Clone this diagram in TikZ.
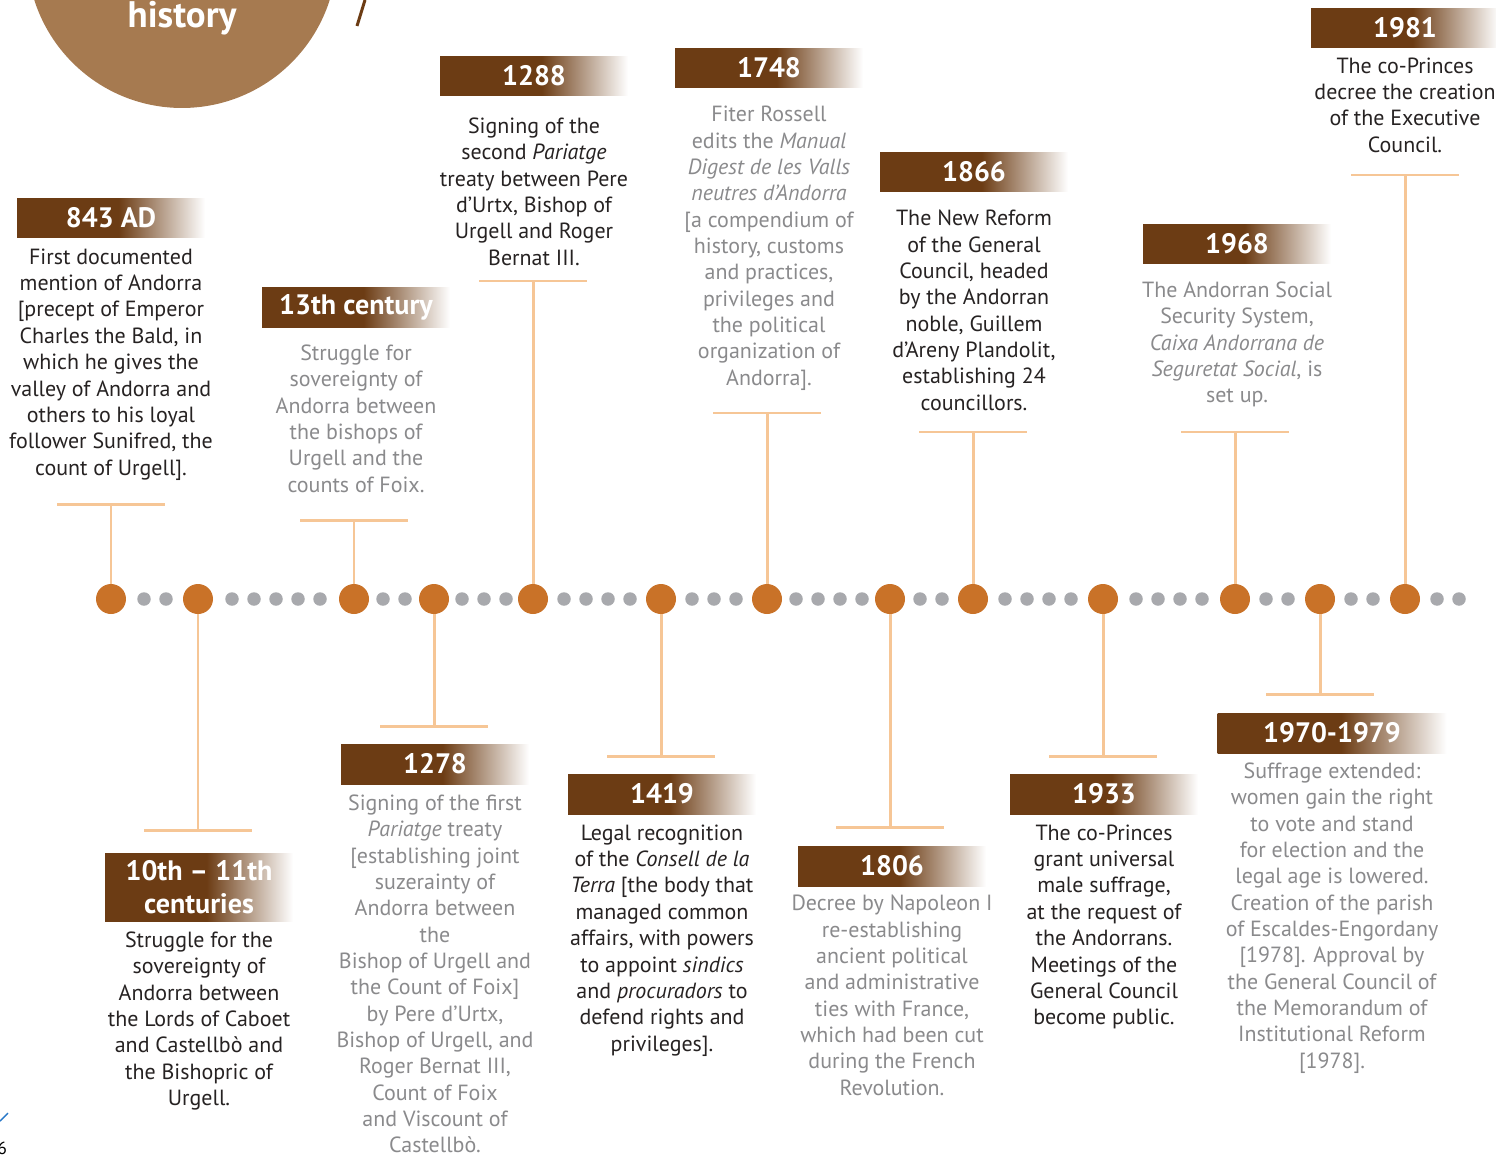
\documentclass[tikz,border=0pt]{standalone}
\usepackage{fontspec}
\setmainfont{PT Sans}
\usetikzlibrary{positioning}

\definecolor{hdrbrown}{RGB}{108,60,20}
\definecolor{titlebrown}{RGB}{166,122,80}
\definecolor{dotorange}{RGB}{201,114,40}
\definecolor{dotgray}{RGB}{168,169,173}
\definecolor{linkpeach}{RGB}{246,198,150}
\definecolor{bodyblack}{RGB}{38,34,34}
\definecolor{bodygray}{RGB}{138,138,140}
\definecolor{pageblue}{RGB}{40,120,200}

\pgfdeclarehorizontalshading{hdrfade}{100bp}{color(0bp)=(hdrbrown); color(25bp)=(hdrbrown); color(52bp)=(hdrbrown); color(75bp)=(white); color(100bp)=(white)}

\tikzset{
  year/.style={shading=hdrfade, minimum width=3.76cm, minimum height=0.8cm, inner sep=0pt,
    text=white, align=center, font=\fontsize{16}{18}\selectfont\bfseries},
  txt/.style={align=center, inner sep=0pt, font=\fontsize{12.5}{15}\selectfont},
  dark/.style={txt, text=bodyblack},
  pale/.style={txt, text=bodygray},
  event/.style={circle, fill=dotorange, minimum size=0.6cm, inner sep=0pt},
  link/.style={linkpeach, line width=1.7pt},
}

\begin{document}
\begin{tikzpicture}[x=0.02cm,y=-0.02cm]
	\useasboundingbox (0,0) rectangle (1496,1159);
	\path[clip] (0,0) rectangle (1496,1159);
	%% title corner
	\fill[titlebrown] (182,-47) circle[radius=3.1cm];
	\node[text=white, font=\fontsize{21}{22}\selectfont\bfseries] (title) at (182,18) {history};
	\draw[hdrbrown, line width=0.06cm] (365,0) -- (357,26);
	\node[font=\fontsize{10}{10}\selectfont, anchor=west, inner sep=0pt] (page) at (-3,1148) {6};
	\draw[pageblue, line width=0.8pt] (0,1121) -- (8,1113);

	%% time line
	\foreach \x in {144,166, 232,254,276,298,320, 383,405, 462,484,506,
	                564,586,608,630, 692,714,736, 796,818,840,862, 920,942,
	                1005,1027,1049,1071, 1136,1158,1180,1202, 1266,1288,
	                1351,1373, 1437,1459}
		\fill[dotgray] (\x,599) circle[radius=0.135cm];
	\foreach \n/\x/\t in {843/111/504, c10/198/830, c13/354/520, 1278/434/726,
	                      1288/533/281, 1419/661/756, 1748/767/413, 1806/890/827,
	                      1866/973/432, 1933/1103/756, 1968/1235/432, s1970/1320/694,
	                      1981/1405/175}
	{
		\node[event] (d\n) at (\x,599) {};
		\coordinate (t\n) at (\x,\t);
		\draw[link] (d\n) -- (t\n);
		\draw[link] ([xshift=-1.08cm]t\n) -- ([xshift=1.08cm]t\n);
	}

	%% events above the line
	\node[year] (h843) at (111,218) {843 AD};
	\node[dark, below=0.2cm of h843] (b843) {First documented\\ mention of Andorra\\
		{[}precept of Emperor\\ Charles the Bald, in\\ which he gives the\\
		valley of Andorra and\\ others to his loyal\\ follower Sunifred, the\\ count of Urgell{]}.};

	\node[year] (hc13) at (356,307) {13th century};
	\node[pale, below=0.34cm of hc13] (bc13) {Struggle for\\ sovereignty of\\
		Andorra between\\ the bishops of\\ Urgell and the\\ counts of Foix.};

	\node[year] (h1288) at (534,76) {1288};
	\node[dark, below=0.42cm of h1288] (b1288) {Signing of the\\ second \textit{Pariatge}\\
		treaty between Pere\\ d'Urtx, Bishop of\\ Urgell and Roger\\ Bernat III.};

	\node[year] (h1748) at (769,68) {1748};
	\node[pale, below=0.35cm of h1748] (b1748) {Fiter Rossell\\ edits the \textit{Manual}\\
		\textit{Digest de les Valls}\\ \textit{neutres d'Andorra}\\ {[}a compendium of\\
		history, customs\\ and practices,\\ privileges and\\ the political\\
		organization of\\ Andorra{]}.};

	\node[year] (h1866) at (974,172) {1866};
	\node[dark, below=0.35cm of h1866] (b1866) {The New Reform\\ of the General\\
		Council, headed\\ by the Andorran\\ noble, Guillem\\ d'Areny Plandolit,\\
		establishing 24\\ councillors.};

	\node[year] (h1968) at (1237,244) {1968};
	\node[pale, below=0.34cm of h1968] (b1968) {The Andorran Social\\ Security System,\\
		\textit{Caixa Andorrana de}\\ \textit{Seguretat Social}, is\\ set up.};

	\node[year] (h1981) at (1405,28) {1981};
	\node[dark, below=0.18cm of h1981] (b1981) {The co-Princes\\ decree the creation\\
		of the Executive\\ Council.};

	%% events below the line
	\node[year, minimum height=1.36cm, font=\fontsize{16}{19}\selectfont\bfseries] (hc10) at (199,887)
		{10th -- 11th\\ centuries};
	\node[dark, below=0.2cm of hc10] (bc10) {Struggle for the\\ sovereignty of\\
		Andorra between\\ the Lords of Caboet\\ and Castellbò and\\ the Bishopric of\\ Urgell.};

	\node[year] (h1278) at (435,764) {1278};
	\node[pale, below=0.2cm of h1278] (b1278) {Signing of the first\\ \textit{Pariatge} treaty\\
		{[}establishing joint\\ suzerainty of\\ Andorra between\\ the\\ Bishop of Urgell and\\
		the Count of Foix{]}\\ by Pere d'Urtx,\\ Bishop of Urgell, and\\ Roger Bernat III,\\
		Count of Foix\\ and Viscount of\\ Castellbò.};

	\node[year] (h1419) at (662,794) {1419};
	\node[dark, below=0.2cm of h1419] (b1419) {Legal recognition\\ of the \textit{Consell de la}\\
		\textit{Terra} {[}the body that\\ managed common\\ affairs, with powers\\
		to appoint \textit{sindics}\\ and \textit{procuradors} to\\ defend rights and\\ privileges{]}.};

	\node[year] (h1806) at (892,866) {1806};
	\node[pale, below=0.17cm of h1806] (b1806) {Decree by Napoleon I\\ re-establishing\\
		ancient political\\ and administrative\\ ties with France,\\ which had been cut\\
		during the French\\ Revolution.};

	\node[year] (h1933) at (1104,794) {1933};
	\node[dark, below=0.2cm of h1933] (b1933) {The co-Princes\\ grant universal\\
		male suffrage,\\ at the request of\\ the Andorrans.\\ Meetings of the\\
		General Council\\ become public.};

	\node[year, minimum width=4.58cm] (hs1970) at (1332,733) {1970-1979};
	\node[pale, below=0.18cm of hs1970] (bs1970) {Suffrage extended:\\ women gain the right\\
		to vote and stand\\ for election and the\\ legal age is lowered.\\
		Creation of the parish\\ of Escaldes-Engordany\\ {[}1978{]}. Approval by\\
		the General Council of\\ the Memorandum of\\ Institutional Reform\\ {[}1978{]}.};
\end{tikzpicture}
\end{document}
